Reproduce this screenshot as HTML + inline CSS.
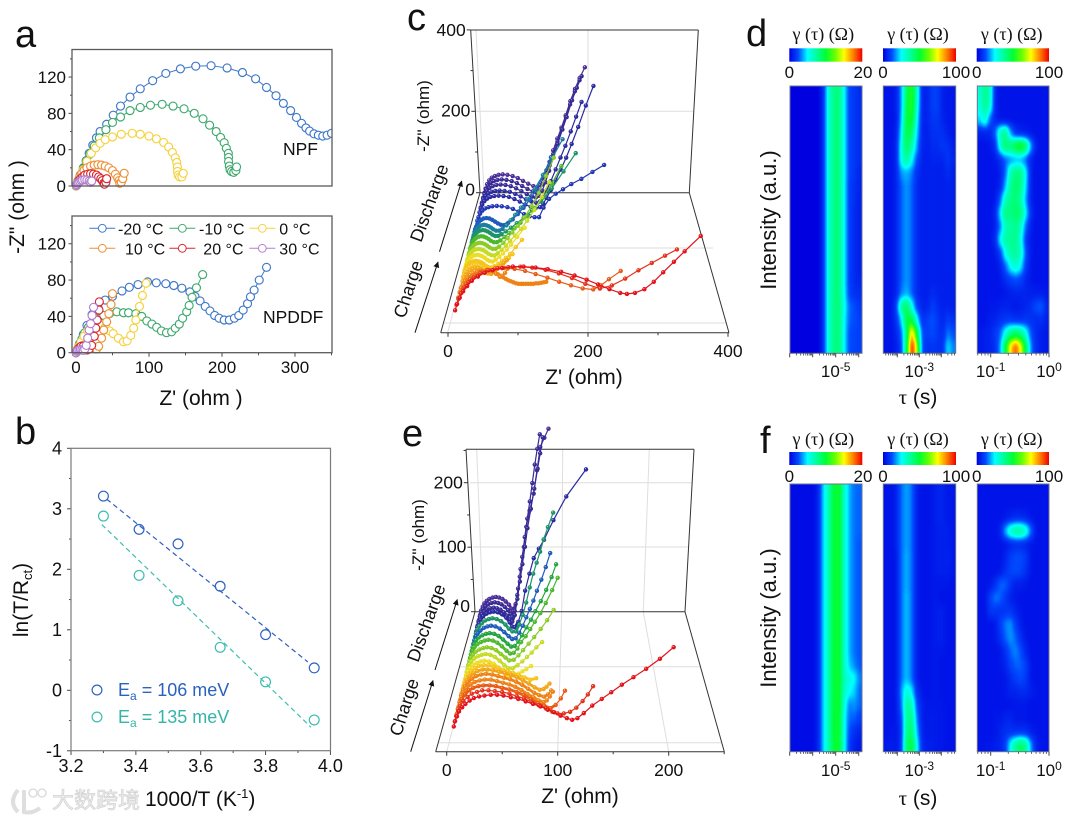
<!DOCTYPE html>
<html lang="en">
<head>
<meta charset="utf-8">
<title>Impedance figure</title>
<style>
html,body{margin:0;padding:0;background:#fff;}
svg{display:block;}
text{font-family:"Liberation Sans","Noto Sans CJK SC",sans-serif;fill:#111;}
.serif{font-family:"Liberation Serif",serif;}
</style>
</head>
<body>
<svg id="fig" xmlns="http://www.w3.org/2000/svg" width="1079" height="820" viewBox="0 0 1079 820">
<defs>
<filter id="jet" x="-15%" y="-15%" width="130%" height="130%" color-interpolation-filters="sRGB">
<feGaussianBlur stdDeviation="2.2 4.2"/>
<feColorMatrix type="matrix" values="1 0 0 0 0  1 0 0 0 0  1 0 0 0 0  0 0 0 0 1"/>
<feComponentTransfer>
<feFuncR type="table" tableValues="0 0 0 0 0 .4 1 1 .93"/>
<feFuncG type="table" tableValues="0 .3 1 1 1 1 1 .5 0"/>
<feFuncB type="table" tableValues=".88 1 1 .6 .2 0 0 0 0"/>
</feComponentTransfer>
</filter>
<linearGradient id="cbar">
<stop offset="0" stop-color="#0000e0"/><stop offset=".125" stop-color="#004dff"/><stop offset=".25" stop-color="#00ffff"/><stop offset=".375" stop-color="#00ff99"/><stop offset=".5" stop-color="#00ff33"/><stop offset=".625" stop-color="#66ff00"/><stop offset=".75" stop-color="#ffff00"/><stop offset=".875" stop-color="#ff8000"/><stop offset="1" stop-color="#ed0000"/>
</linearGradient>
<marker id="arrow" markerWidth="7" markerHeight="7" refX="5.5" refY="3" orient="auto"><path d="M0,0 L6,3 L0,6 Z" fill="#111"/></marker>
</defs>

<!-- panel letters -->
<text x="15" y="47" font-size="38">a</text>
<text x="15" y="444" font-size="38">b</text>
<text x="407" y="30" font-size="38">c</text>
<text x="746" y="46" font-size="38">d</text>
<text x="402" y="446" font-size="38">e</text>
<text x="760" y="453" font-size="38">f</text>

<!-- axis titles -->
<text x="201" y="405" font-size="21" text-anchor="middle">Z' (ohm )</text>
<text transform="translate(24,207) rotate(-90)" font-size="21" text-anchor="middle">-Z" (ohm )</text>
<text x="145" y="806" font-size="21">1000/T (K<tspan dy="-8" font-size="13">-1</tspan><tspan dy="8">)</tspan></text>
<text transform="translate(28,600) rotate(-90)" font-size="21" text-anchor="middle">ln(T/R<tspan dy="4" font-size="13">ct</tspan><tspan dy="-4">)</tspan></text>
<text x="584" y="384" font-size="21" text-anchor="middle">Z' (ohm)</text>
<text transform="translate(429,116) rotate(-90)" font-size="17" text-anchor="middle">-Z'' (ohm)</text>
<text transform="translate(435,205) rotate(-70)" font-size="18" text-anchor="middle">Discharge</text>
<text transform="translate(414,291) rotate(-72)" font-size="18" text-anchor="middle">Charge</text>
<text x="580" y="803" font-size="21" text-anchor="middle">Z' (ohm)</text>
<text transform="translate(424,535) rotate(-90)" font-size="17" text-anchor="middle">-Z'' (ohm)</text>
<text transform="translate(432,625) rotate(-70)" font-size="18" text-anchor="middle">Discharge</text>
<text transform="translate(410,709) rotate(-72)" font-size="18" text-anchor="middle">Charge</text>
<line x1="415" y1="332.7" x2="438" y2="262" stroke="#111" stroke-width="1" marker-end="url(#arrow)"/>
<line x1="439.5" y1="251.7" x2="461.7" y2="181" stroke="#111" stroke-width="1" marker-end="url(#arrow)"/>
<line x1="410.7" y1="751.7" x2="433" y2="680.5" stroke="#111" stroke-width="1" marker-end="url(#arrow)"/>
<line x1="435" y1="670" x2="457.3" y2="599.5" stroke="#111" stroke-width="1" marker-end="url(#arrow)"/>
<text x="283" y="155" font-size="17.5">NPF</text>
<text x="263" y="323" font-size="17.5">NPDDF</text>

<text transform="translate(776,220) rotate(-90)" font-size="22" text-anchor="middle">Intensity (a.u.)</text>
<text transform="translate(776,618) rotate(-90)" font-size="22" text-anchor="middle">Intensity (a.u.)</text>
<text x="918" y="404" font-size="21" text-anchor="middle"><tspan class="serif">τ</tspan> (s)</text>
<text x="918" y="805" font-size="21" text-anchor="middle"><tspan class="serif">τ</tspan> (s)</text>

<!-- watermark -->
<g>
<path d="M18,790 Q8,802 18,812 M24,790 L24,812 Q32,814 40,808" fill="none" stroke="#dedede" stroke-width="4"/>
<circle cx="33" cy="793" r="4" fill="none" stroke="#dedede" stroke-width="1.6"/>
<circle cx="42" cy="793" r="4" fill="none" stroke="#dedede" stroke-width="1.6"/>
<text x="52" y="808" font-size="22" style="fill:#ececec;stroke:#d2d2d2;stroke-width:.7;font-family:'Liberation Sans','Noto Sans CJK SC',sans-serif">大数跨境</text>
</g>
</svg>

<script>
/* ---------- panel a data ---------- */
const tempLabels = ['-20 °C','-10 °C','0 °C','10 °C','20 °C','30 °C'];
const npfReZ = [
[0,3,6,10,14,18,23,28,33,42,51,61,74,88,105,123,143,164,185,207,228,246,261,274,284,294,302,309,315,320,326,332,338,344,350],
[0,3,6,10,14,19,25,32,41,50,61,74,88,102,118,133,148,162,174,183,192,198,203,206,208.7,209,209,210,211,213,216,219,220],
[0,2,5,10,15,21,27,33,40,50,62,77,88,100,110,120,127,132,136,138,139,139,140,142,145,147],
[1,3,5,8,11,15,20,25,30,35,40,45,50,54,57,59,60,62,64,66],
[1,2,4,6,9,12,16,20,24,28,31,34,36,38,39,41,42],
[0.5,1,2,3,5,7,9,12,15,18,20,21.5]];
const npfImZ = [
[0,6,12,20,28,36,45,53,60,68,78,88,98,107,116,124,129,132,132.5,130,125,118,108.5,99.5,91,83,75.5,69,64,60.5,57.5,56,55,56,58],
[0,6,12,19,27,35,44,53,62,70,76,83,86.5,89,90,88,85,80,74,67,60,53.5,47.7,41.5,36,31.5,27,22,18,16,15,17,21],
[0,4,8,18,27,36,42,47,51,54,57,58,57,55,52,48,43,37,31,26,21,16,12,10,10,14],
[2,6,10,14,17,20,22,23,23.5,23,22,20,17,13,9,6,3,4,8,14],
[1,3,6,8,10,12,13,13.5,13,12,10,8,6,3,2,4,8],
[0.5,1.5,3,4,5,6,6.5,7,6.5,5.5,4,5.5]];
const npddfReZ = [
[0,2,5,10,15,22,30,40,50,63,73,85,98,110,123,134,145,156,163,170,177,183.5,190,196,203,210,217,223,229,235,239,244,251,261],
[0,2,4,8,12,17,23,30,38,46,56,65,72,82,90,97,104,110.5,117,124,131,136,141.5,146,151.6,155,159,165,173.5],
[0,2,4,7,11,16,22,28,34,40,46,51,58,65,70,75,79,82,87,91,96],
[0,2,5,9,14,19,24,28,31,35,38,42,45,48,50],
[0,2,4,7,10,13,15,18,21.5,25,27,29,31.5,32],
[0,1,2,4,6,8,10,12,14,16,18,20,22,24]];
const npddfImZ = [
[0,4,10,20,30,42,50,58,62,68,72,75,78,77,76,74,71,67,62,57,51,46,41,38,36,36,38,41,47,54,61.5,69,80,94],
[0,4,8,15,22,28,33,38,41,43,45,44,44,43,40,35,31.5,28,24,22,23,27,31.5,38,45,52,61,71.5,86],
[0,4,7,12,18,24,28,30,30,28,24,21,16,12,13,19,27,36,51,63,76.5],
[0,3,6,8,9,8,5,4,7,16,25,34,43,53,65],
[0,3,5,7,7,5,3,4,8,18,27,36,47,56],
[0,1.5,2.5,3,3.5,3,2.5,4,8,16,25,32,41,50]];
const aYTicks = [0,40,80,120];
const aYMinor = [20,60,100,140];
const aXTicks = [0,100,200,300];
const aXMinor = [50,150,250,350];
const aColors = ['#3f78c9','#3fa96f','#f4d23c','#ee9034','#d92632','#b27fd2'];

/* ---------- panel b data ---------- */
const bInverseT = [3.30,3.41,3.53,3.66,3.80,3.95];
const bSeriesNpf = [3.21,2.66,2.42,1.72,0.92,0.37];
const bSeriesNpddf = [2.88,1.90,1.48,0.71,0.14,-0.49];
const bFitX = [3.31,3.93];
const bFitNpf = [3.16,0.47];
const bFitNpddfX = [3.295,3.94];
const bFitNpddf = [2.74,-0.61];
const bXTicks = ['3.2','3.4','3.6','3.8','4.0'];
const bXMinor = [3.3,3.5,3.7,3.9];
const bYTicks = [-1,0,1,2,3,4];
const bYMinor = [-0.5,0.5,1.5,2.5,3.5];

/* ---------- panel c data (front to back) ---------- */
const cycleColors = ['#e3121a','#e5321a','#e95a16','#ee8214','#f2a316','#f4c51c','#eedd22','#c6dc24','#8ccc28','#4cb82e','#22a53e','#1c9468','#1c7fa0','#1e5cbc','#2036b4','#2a2aa0','#362a96','#4a2d98'];
const cDepth = [.16,.2,.25,.29,.32,.37,.40,.43,.47,.51,.555,.60,.645,.68,.72,.80,.86,.895,.93,.965,1.0];
const cReZ = [
[2,5,9,14,20,27,36,46,58,72,88,104,122,140,160,180,198,215,232,248,258,270,284,298,312,328,344,368],
[2,5,9,14,20,28,38,50,64,80,98,116,136,156,176,196,218,236,256,276,296,316,334],
[2,5,9,14,20,27,36,46,58,72,88,104,120,138,156,174,192,208,220,232,250],
[2,4,7,10,14,18,23,29,35,42,50,58,64,68,72,76],
[2,4,6,8,10,12,14,16,18,21,23,26,29,32,36,40,44,48,52,56,60,64,68,72,76,80,84,88,92,96,99,103,107,111,115,119,123,127,131,135],
[2,4,7,10,14,18,22,27,32,37,42,47,52,57,62,67,72],
[1,3,5,8,11,15,19,23,27,31,35,39,43,47,52,57,62,68,74,80],
[1,2,4,6,9,12,16,20,24,28,32,36,40,45,50,56,62,68,75,84,94],
[1,2,4,6,9,12,16,20,24,28,32,36,40,45,50,56,62,68,75,85,97],
[1,2,4,6,9,12,16,20,24,28,32,36,41,46,52,58,65,72,80,90,100,112,124,136],
[1,2,4,6,9,12,16,20,24,28,32,36,41,46,52,59,66,74,83,94,106,118,130,143],
[1,2,4,6,9,12,16,20,24,28,32,36,41,46,52,59,67,76,86,97,110,124,139,155],
[1,2,4,6,9,12,16,20,24,28,32,36,41,46,52,59,68,78,90,104,120,138,158,179],
[1,2,4,6,9,12,16,20,24,28,32,36,41,46,52,59,66,74,84,95,108,122,138,156],
[1,2,4,6,9,13,17,22,27,32,37,42,47,53,60,68,77,87,98,110,122,135],
[1,3,6,10,15,21,28,36,45,55,65,75,85,95,104,112,120,130,142,155,170,188,208,229],
[1,3,6,10,15,21,28,36,45,55,65,75,85,95,104,112,118,124,132,141,150,160,170,182,196,210],
[1,3,6,10,15,21,28,36,45,55,65,75,85,95,104,111,117,123,131,140,149,158,168,178,188],
[1,3,6,10,15,21,28,36,45,55,65,75,85,95,102,108,114,120,127,135,143,152,160,170,179,188],
[1,3,6,10,15,21,28,36,45,55,65,75,85,95,102,108,114,120,127,134,142,150,158,166,175,184],
[1,3,6,10,15,21,28,36,45,55,65,75,85,95,102,108,114,120,126,133,141,149,157,166,175,184,194]];
const cImZ = [
[0,12,24,36,46,56,64,71,76,80,83,83,81,78,73,66,58,49,40,33,31,33,40,54,72,92,112,141],
[0,11,22,33,43,52,60,66,70,72,73,71,67,60,51,40,31,37,50,66,80,94,106],
[0,9,18,27,36,43,50,54,57,58,56,52,46,39,31,24,18,16,24,36,52],
[0,8,15,22,28,33,37,40,42,42,41,36,30,32,38,46],
[0,3,6,9,12,15,18,21,23,26,28,30,31,32,33,34,35,35,33,30,27,24,21,18,15,13,11,9,8,8,8,8,8,8,8,9,9,10,11,12],
[0,6,12,17,21,24,25,25,23,19,15,14,18,24,30,36,42],
[0,5,10,15,19,22,24,24,23,21,17,14,12,11,14,19,24,31,38,46],
[0,5,10,14,18,21,23,24,23,21,18,14,11,10,13,18,24,30,38,52,67],
[0,5,10,15,19,22,24,25,24,22,19,15,12,11,15,21,28,36,46,62,81],
[0,5,11,16,20,23,25,26,25,23,20,16,13,12,17,24,33,43,54,68,85,108,135,166],
[0,5,11,16,20,23,25,26,25,23,20,16,13,13,18,26,36,48,62,80,104,132,168,207],
[0,5,11,16,21,24,26,27,26,24,21,17,14,14,18,25,34,44,56,70,88,110,140,178],
[0,5,11,16,21,24,26,27,26,24,21,17,14,14,18,24,32,42,54,70,90,118,155,195],
[0,5,11,17,22,25,27,28,27,25,22,18,15,15,19,27,38,50,66,84,108,138,175,217],
[0,6,12,18,23,27,30,31,30,27,23,19,16,15,20,28,40,54,72,96,128,167],
[0,8,16,23,28,31,33,34,33,31,27,21,15,10,8,8,30,50,62,72,84,96,112,128],
[0,9,18,26,32,36,38,39,38,36,31,25,18,13,10,12,20,34,52,76,100,128,160,200,250,296],
[0,9,19,27,33,37,39,40,39,37,32,26,19,14,11,14,24,40,62,90,118,146,180,215,250],
[0,10,20,28,35,39,42,43,42,39,34,27,20,14,12,16,28,48,76,108,140,175,205,245,275,303],
[0,10,20,29,36,40,43,44,43,40,35,28,21,15,12,17,32,52,78,106,136,166,196,226,258,285],
[0,10,21,30,37,41,44,45,44,41,36,29,22,16,13,18,36,55,76,104,133,160,190,225,255,282,308]];
const cColorIndex = [0,1,2,3,3,4,5,5,6,7,8,9,11,12,13,14,15,15,16,16,17];
const cXTicks = [0,200,400];
const cXMinor = [100,300];
const cYTicks = [0,200,400];
const cYMinor = [100,300];

/* ---------- panel e data (front to back) ---------- */
const eDepth = [.18,.22,.27,.32,.37,.42,.47,.52,.57,.62,.67,.72,.77,.82,.86,.90,.94,.98];
const eReZ = [
[1,2,4,6,9,12,16,20,25,30,36,42,48,55,62,69,76,83,90,96,102,108,113,118,124,132,141,150,160,171,183,196,209],
[1,2,4,6,9,13,17,22,27,33,39,46,53,60,67,74,81,88,94,99,105,111,117,123,128,133],
[1,2,4,6,9,13,17,22,27,33,39,45,52,59,66,73,80,86,92,97,102,106],
[1,2,4,6,9,13,17,22,27,33,39,45,51,57,63,69,75,80,85,88,91,94],
[1,2,4,6,9,13,17,22,27,33,39,45,51,57,63,69,75,80,85,89,92],
[1,2,4,6,9,13,17,22,27,33,39,45,51,57,63,69,75,80,84,87,90],
[1,2,4,6,9,13,17,22,27,32,37,42,47,52,58,64,70,76],
[1,2,4,6,9,13,17,21,26,31,36,41,45,49,53,57,61,65,70],
[1,2,4,6,9,13,17,21,26,31,36,41,45,50,55,60,65,70,75,81],
[1,2,4,6,9,13,17,21,26,31,36,41,45,50,55,60,66,72,79,86,93],
[1,2,4,6,9,13,17,21,26,31,36,41,45,49,53,57,62,67,72,78,84,91,97],
[1,2,4,6,9,13,17,21,26,31,36,41,45,49,53,57,62,67,72,78,84,90,95],
[1,2,4,6,9,13,17,21,26,31,36,41,45,49,53,57,61,65,69,73,78,83,88],
[1,2,4,6,9,13,17,21,26,31,36,40,44,48,52,56,60,64,68,72,76,80,85,91],
[1,2,4,6,9,13,17,21,26,31,36,40,43,46,50,54,58,63,68,74,80,91,106,129],
[1,2,4,6,9,12,16,20,24,28,32,36,39,42,45,48,51,54,57,60,64,68,72,75,78],
[1,2,4,6,9,12,16,20,24,28,32,36,39,41,44,47,50,53,56,59,62,65,68,71,74],
[1,2,4,6,9,12,16,20,24,28,32,36,39,41,44,47,50,54,57,61,66,70,74,79,84]];
const eImZ = [
[0,6,12,18,23,27,31,34,36,37,38,38,37,35,33,30,27,24,20,17,13,10,8,10,16,25,33,41,50,59,69,81,95],
[0,6,12,18,24,29,33,35,37,37,36,35,33,30,27,23,19,15,11,9,9,11,16,24,32,42],
[0,6,12,18,24,29,32,34,35,35,34,32,30,27,23,18,13,10,7,11,19,28.5],
[0,6,12,18,23,28,31,33,34,34,32,30,28,25,21,16,12,8,6,8,13,19],
[0,6,12,17,22,27,30,32,33,32,30,28,26,23,19,14,9,6,4,7,12],
[0,5,11,16,21,25,28,30,30,29,27,25,23,20,16,12,7,4,5,8,12],
[0,5,10,15,19,23,26,27,27,25,23,21,19,17,14,11,8,10],
[0,5,10,14,18,21,23,24,23,20,15,9,5,4,5,7,10,13,17],
[0,5,10,14,18,21,23,24,23,20,15,9,5,5,9,14,20,26,33,40],
[0,5,10,14,18,21,23,24,23,20,15,10,6,7,13,20,29,38,49,61,75],
[0,5,10,15,19,22,24,25,24,21,16,10,6,7,13,22,30,40,50,62,76,94,111],
[0,5,10,15,19,22,24,25,24,21,16,10,6,7,13,22,33,44,56,70,86,104,122],
[0,5,11,15,19,23,25,26,25,22,17,11,7,8,16,26,38,50,62,76,92,110,130],
[0,5,11,16,20,24,26,27,26,23,18,12,8,8,18,32,50,72,92,108,124,142,160,181],
[0,6,12,17,22,26,28,29,28,25,20,13,7,6,14,30,60,85,108,122,135,164,199,239],
[0,6,12,17,21,24,26,27,26,24,20,15,9,6,16,40,66,92,118,146,175,205,235,258,282],
[0,6,12,17,21,24,26,27,26,24,20,15,9,5,14,38,66,96,126,154,180,208,236,260,282],
[0,6,12,17,21,24,26,27,26,24,20,15,9,5,16,40,70,104,135,160,186,222,258,272,286]];
const eColorIndex = [0,1,2,3,3,4,5,6,7,8,9,10,13,11,15,16,16,17];
const eXTicks = [0,100,200];
const eXMinor = [50,150,250];
const eYTicks = [0,100,200];
const eYMinor = [50,150,250];

/* ---------- DRT heatmap data: rows top to bottom, columns left to right, 0-100 = colour-bar fraction ---------- */
const heatD1 = [
[0,0,0,0,0,0,8,30,40,42,26,11,9,7],[0,0,0,0,0,0,8,30,40,42,26,11,9,7],[0,0,0,0,0,0,8,30,40,42,26,11,9,7],[0,0,0,0,0,0,8,30,40,42,26,11,9,7],
[0,0,0,0,0,0,8,30,40,42,26,11,9,7],[0,0,0,0,0,0,8,30,40,42,26,11,9,7],[0,0,0,0,0,0,8,30,40,42,26,11,9,6],[0,0,0,0,0,0,8,30,40,42,26,10,8,6],
[0,0,0,0,0,0,8,30,40,42,26,10,8,5],[0,0,0,0,0,0,8,30,40,42,26,10,7,5],[0,0,0,0,0,0,8,30,40,42,26,10,7,5],[0,0,0,0,0,0,8,30,40,42,26,10,7,5],
[0,0,0,0,0,0,8,30,40,42,26,10,7,5],[0,0,0,0,0,0,8,30,40,42,26,10,7,5],[0,0,0,0,0,0,8,30,40,42,26,10,7,6],[0,0,0,0,0,0,8,30,40,42,26,11,8,7],
[0,0,0,0,0,0,8,30,40,42,28,15,12,9],[0,0,0,0,0,0,8,30,40,42,26,14,12,10],[0,0,0,0,0,0,8,30,40,42,26,12,11,10],[0,0,0,0,0,0,8,30,40,42,26,12,11,10]];
const heatD2 = [
[3,3,5,18,46,56,32,6,6,10,10,5,4,4],[3,3,5,18,48,56,30,6,6,10,10,5,4,4],[3,3,4,20,50,52,26,6,6,9,9,6,4,4],[3,3,5,24,50,44,22,6,5,8,8,8,5,4],
[3,3,6,28,46,36,18,6,5,7,7,9,8,5],[3,3,6,28,38,26,12,5,5,6,6,6,9,6],[3,3,6,18,20,16,8,5,5,6,5,5,7,5],[3,3,6,14,18,14,7,5,5,6,5,5,6,5],
[3,3,6,14,18,14,7,5,5,6,5,5,6,5],[3,3,6,14,18,14,7,5,5,6,5,5,6,5],[3,3,6,14,18,14,7,5,5,6,5,5,6,5],[3,3,6,14,18,14,7,5,5,6,5,5,6,5],
[3,3,6,14,18,14,7,5,5,6,5,5,6,5],[3,3,6,14,18,14,7,5,5,6,5,5,6,5],[3,3,6,14,18,14,7,5,5,6,5,5,5,5],[3,3,6,16,20,14,7,5,5,7,6,5,5,5],
[3,3,10,38,46,28,10,6,6,10,7,5,6,5],[3,3,8,22,50,50,26,8,10,13,9,6,10,8],[3,3,6,14,40,85,50,12,10,12,9,7,16,12],[3,3,5,10,45,100,70,12,8,9,8,8,24,16]];
const heatD3 = [
[30,40,32,6,3,3,3,3,3,3,3,3,3,3],[28,40,30,6,3,3,3,3,3,3,3,3,3,3],[22,32,14,6,4,3,3,3,3,3,3,3,3,3],[5,6,6,14,34,40,18,8,6,5,4,3,3,3],
[3,3,4,8,30,44,42,50,56,44,18,5,3,3],[3,3,3,4,8,14,18,20,20,14,6,3,3,3],[3,3,3,3,5,14,34,42,40,24,5,3,3,3],[3,3,3,3,6,20,38,44,40,22,5,3,3,3],
[3,3,3,4,14,34,40,42,36,18,5,3,3,3],[3,3,3,6,24,42,40,44,42,24,7,3,3,3],[3,3,3,5,16,34,36,40,32,14,5,3,3,3],[3,3,3,7,26,36,38,40,28,9,4,3,3,3],
[3,3,3,4,10,28,36,38,32,12,4,3,3,3],[3,3,3,3,5,14,26,32,24,9,4,3,3,3],[3,3,3,3,4,7,10,12,10,6,4,3,3,3],[3,3,3,3,3,4,5,6,6,6,5,5,5,4],
[3,3,4,4,5,6,5,4,5,6,8,12,14,6],[3,3,5,6,8,9,9,8,8,9,8,7,8,5],[4,5,6,9,14,28,40,44,40,28,12,7,5,4],[4,5,6,8,18,48,78,92,74,44,16,7,5,4]];
const heatF1 = [
[2,2,2,2,2,6,22,34,50,52,32,20,15,14],[2,2,2,2,2,6,22,34,50,52,32,20,15,14],[2,2,2,2,2,6,22,34,50,52,32,20,15,14],[2,2,2,2,2,6,22,34,50,52,32,20,15,14],
[2,2,2,2,2,6,22,34,50,52,32,20,15,13],[2,2,2,2,2,6,22,34,50,52,32,20,15,13],[2,2,2,2,2,6,22,34,50,52,32,20,15,13],[2,2,2,2,2,6,22,34,50,52,32,20,15,13],
[2,2,2,2,2,6,22,34,50,52,32,20,15,13],[2,2,2,2,2,6,22,34,50,52,32,20,15,13],[2,2,2,2,2,6,22,34,50,52,32,20,15,13],[2,2,2,2,2,6,22,34,50,52,32,20,15,13],
[2,2,2,2,2,6,22,34,50,52,32,20,15,13],[2,2,2,2,2,6,22,34,50,52,32,22,17,13],[2,2,2,2,2,6,22,34,50,52,34,28,26,16],[2,2,2,2,2,6,22,34,50,52,32,26,22,14],
[2,2,2,2,2,6,22,34,50,52,30,16,18,14],[2,2,2,2,2,6,22,34,50,52,28,14,14,10],[2,2,2,2,2,6,22,34,50,52,28,12,8,6],[2,2,2,2,2,6,22,34,50,52,28,10,5,4]];
const heatF2 = [
[3,3,5,15,19,15,5,3,3,4,6,6,4,4],[3,3,5,15,19,15,5,3,3,4,6,6,4,4],[3,3,5,15,19,15,5,3,3,4,6,6,4,4],[3,3,5,15,19,15,5,3,3,4,5,6,5,4],
[3,3,5,15,19,15,5,3,3,4,5,5,5,4],[3,3,4,15,20,15,5,3,3,4,5,5,6,4],[3,3,4,15,20,15,5,3,3,4,5,5,5,4],[3,3,4,15,20,15,5,3,3,4,4,4,4,3],
[3,3,4,15,21,15,5,3,3,4,4,3,3,3],[3,3,4,15,21,15,5,3,3,4,5,5,3,3],[3,3,4,15,21,15,5,3,3,4,5,5,3,3],[3,3,4,15,21,15,5,3,3,4,5,5,3,3],
[3,3,4,15,21,15,5,3,3,4,4,4,3,3],[3,3,4,15,21,15,5,3,3,4,4,3,3,3],[3,3,4,15,21,15,5,3,3,4,4,3,3,3],[3,3,4,18,30,24,8,4,3,4,4,3,3,3],
[3,3,4,15,38,34,12,5,4,4,4,4,3,3],[3,3,4,11,38,40,16,5,4,5,4,4,3,3],[3,4,4,9,40,44,20,6,4,5,4,4,3,3],[4,5,4,9,44,50,26,7,5,5,4,4,3,3]];
const heatF3 = [
[3,3,3,3,3,3,3,3,3,3,3,3,3,3],[3,3,3,3,3,3,3,3,3,3,3,3,3,3],[3,3,3,3,3,4,6,7,7,6,4,3,3,3],[3,3,3,3,6,20,32,38,38,30,14,4,3,3],
[3,3,3,3,3,4,6,7,7,6,4,3,3,3],[3,3,3,3,3,6,10,12,12,9,4,3,3,3],[3,3,3,3,4,8,11,12,11,8,4,3,3,3],[3,3,4,8,14,14,8,5,5,4,3,3,3,3],
[3,3,10,16,14,9,5,4,3,3,3,3,3,3],[3,3,9,9,8,9,9,6,4,3,3,3,3,3],[3,3,3,4,10,16,18,10,5,3,3,3,3,3],[3,3,3,4,8,14,18,14,8,4,3,3,3,3],
[3,3,3,3,4,8,14,17,12,6,3,3,3,3],[3,3,3,3,4,6,11,14,14,10,4,3,3,3],[3,3,3,3,3,4,7,10,12,9,4,3,3,3],[3,3,3,3,3,4,6,6,7,7,5,4,3,3],
[3,3,3,3,3,3,3,4,4,4,3,3,3,3],[3,3,3,4,4,6,6,4,4,4,3,3,3,3],[3,3,3,4,6,8,8,8,8,8,5,4,3,3],[3,4,4,5,6,10,26,38,46,38,18,6,4,3]];
const colorbarMax = ['20','100','100'];
const logTickD1 = [-7,-6,-5,-4];
const logTickD2 = [-5,-4,-3,-2];
const logTickD3 = [-2,-1,0];
const labelledD1 = [-5];
const labelledD2 = [-3];
const labelledD3 = [-1,0];

/* ---------- drawing ---------- */
const NS = 'http://www.w3.org/2000/svg';
const fig = document.getElementById('fig');
function mk(tag, attrs, parent) {
  const el = document.createElementNS(NS, tag);
  for (const k in attrs) el.setAttribute(k, attrs[k]);
  (parent || fig).appendChild(el);
  return el;
}
function group(name, parent) {
  const el = mk('g', {}, parent);
  
  
  return el;
}
function label(parent, x, y, str, anchor, size, name) {
  const el = mk('text', {x: x, y: y, 'text-anchor': anchor, 'font-size': size}, parent);
  el.textContent = str;
  
  
  return el;
}
function seg(parent, x1, y1, x2, y2, color, width, name) {
  const el = mk('line', {x1: x1, y1: y1, x2: x2, y2: y2, stroke: color, 'stroke-width': width}, parent);
  
  
  return el;
}
function frame(parent, x, y, w, h, color, width, name) {
  const el = mk('rect', {x: x, y: y, width: w, height: h, fill: 'none', stroke: color, 'stroke-width': width}, parent);
  
  
  return el;
}
const AXC = '#4a4a4a';

/* panel a axes */
const aX = z => 76 + z * 0.73;
const aBoxes = [{top: 49.5, base: 186, name: 'npf', re: npfReZ, im: npfImZ}, {top: 216, base: 352.7, name: 'npddf', re: npddfReZ, im: npddfImZ}];
const aClipDefs = fig.querySelector('defs');
aBoxes.forEach((box, bi) => {
  const aY = v => box.base - v * 0.908;
  const g = group('panel-a-' + box.name);
  const cp = mk('clipPath', {id: 'clipA' + bi}, aClipDefs);
  mk('rect', {x: 72, y: box.top, width: 260, height: box.base - box.top + 6}, cp);
  aYTicks.forEach(t => {
    seg(g, 68.5, aY(t), 72, aY(t), AXC, 1, 'y-tick-' + t);
    label(g, 66, aY(t) + 6, String(t), 'end', 17, 'y-tick-label-' + t);
  });
  aYMinor.forEach(t => {
    seg(g, 70, aY(t), 72, aY(t), AXC, 1, 'y-minor-tick-' + t);
  });
  if (bi === 1) {
    aXTicks.forEach(t => {
      seg(g, aX(t), box.base, aX(t), box.base + 4, AXC, 1, 'x-tick-' + t);
      label(g, aX(t), 373, String(t), 'middle', 17, 'x-tick-label-' + t);
    });
    aXMinor.forEach(t => {
      seg(g, aX(t), box.base, aX(t), box.base + 2.5, AXC, 1, 'x-minor-tick-' + t);
    });
  }
  const plot = mk('g', {'clip-path': 'url(#clipA' + bi + ')'}, g);
  box.re.forEach((xs, si) => {
    const sg = group(box.name + '-series-' + tempLabels[si].replace(/[^0-9-]/g, '') + 'C', plot);
    const line = mk('polyline', {points: xs.map((x, i) => aX(x) + ',' + aY(box.im[si][i])).join(' '), fill: 'none', stroke: aColors[si], 'stroke-width': 1}, sg);
    
    
    xs.forEach((x, i) => {
      const c = mk('circle', {cx: aX(x), cy: aY(box.im[si][i]), r: 4, fill: '#fff', stroke: aColors[si], 'stroke-width': 1.15}, sg);
      
      
    });
  });
  frame(g, 72, box.top, 260, box.base - box.top, '#5a5a5a', 1.3, 'plot-frame');
});

/* panel a legend */
const legendGroup = group('panel-a-legend');
const legendLineX = [89.3, 169.3, 249.3];
const legendTextX = [[118, 199, 279.3], [125, 203.3, 279.3]];
const legendRowY = [228.3, 248.3];
tempLabels.forEach((t, i) => {
  const row = i < 3 ? 0 : 1, col = i % 3;
  const eg = group('legend-entry-' + t.replace(/[^0-9-]/g, '') + 'C', legendGroup);
  seg(eg, legendLineX[col], legendRowY[row], legendLineX[col] + 26, legendRowY[row], aColors[i], 1, 'legend-line');
  const c = mk('circle', {cx: legendLineX[col] + 13, cy: legendRowY[row], r: 3.9, fill: '#fff', stroke: aColors[i], 'stroke-width': 1}, eg);
  
  
  label(eg, legendTextX[row][col], legendRowY[row] + 6, t, 'start', 16, 'legend-label');
});

/* panel b */
const bX = v => 71 + (v - 3.2) * 324.3;
const bY = v => 448.3 + (4 - v) * 60.5;
const bG = group('panel-b');
bYTicks.forEach(t => {
  seg(bG, 67, bY(t), 71, bY(t), AXC, 1, 'y-tick-' + t);
  label(bG, 62, bY(t) + 6, String(t), 'end', 18, 'y-tick-label-' + t);
});
bYMinor.forEach(t => {
  seg(bG, 69, bY(t), 71, bY(t), AXC, 1, 'y-minor-tick-' + t);
});
bXTicks.forEach(t => {
  seg(bG, bX(+t), 750.7, bX(+t), 755, AXC, 1, 'x-tick-' + t);
  label(bG, bX(+t), 772, t, 'middle', 18, 'x-tick-label-' + t);
});
bXMinor.forEach(t => {
  seg(bG, bX(t), 750.7, bX(t), 753, AXC, 1, 'x-minor-tick-' + t);
});
const fitBlue = seg(bG, bX(bFitX[0]), bY(bFitNpf[0]), bX(bFitX[1]), bY(bFitNpf[1]), '#2f5fbe', 1.2, 'fit-line-106-mev');
fitBlue.setAttribute('stroke-dasharray', '5 3.5');
const fitTeal = seg(bG, bX(bFitNpddfX[0]), bY(bFitNpddf[0]), bX(bFitNpddfX[1]), bY(bFitNpddf[1]), '#3dbdb0', 1.2, 'fit-line-135-mev');
fitTeal.setAttribute('stroke-dasharray', '5 3.5');
[[bSeriesNpf, '#2f63c0', 'npf'], [bSeriesNpddf, '#3dbdb0', 'npddf']].forEach(s => {
  s[0].forEach((v, i) => {
    const c = mk('circle', {cx: bX(bInverseT[i]), cy: bY(v), r: 4.9, fill: 'none', stroke: s[1], 'stroke-width': 1.2}, bG);
    
    
  });
});
frame(bG, 71, 448.3, 259.5, 302.4, '#7a7a7a', 1.2, 'plot-frame');
[[690, '#2f63c0', '106 meV', '#2a62bd'], [717, '#3dbdb0', '135 meV', '#35b5a8']].forEach((row, i) => {
  const eg = group('legend-entry-ea-' + i, bG);
  const c = mk('circle', {cx: 97, cy: row[0], r: 4.9, fill: 'none', stroke: row[1], 'stroke-width': 1.2}, eg);
  
  
  const t = label(eg, 118, row[0] + 6, '', 'start', 18, 'legend-label');
  t.style.fill = row[3];
  t.innerHTML = 'E<tspan dy="4" font-size="12">a</tspan><tspan dy="-4"> = ' + row[2] + '</tspan>';
});

/* 3D panels */
const projC = (re, im, depth) => [588 + (re - 200) * (0.7 - 0.18 * depth), 332.7 - 140 * depth - im * (0.55 - 0.143 * depth)];
const projE = (re, im, depth) => [572.8 + (re - 113.6) * (1.11 - 0.294 * depth), 751.7 - 140 * depth - im * (0.877 - 0.232 * depth)];
const defs = fig.querySelector('defs');
cycleColors.forEach((c, i) => {
  const g = mk('radialGradient', {id: 'ball' + i, cx: '.5', cy: '.5', r: '.6', fx: '.35', fy: '.3'}, defs);
  mk('stop', {offset: '0', 'stop-color': '#ffffff', 'stop-opacity': '.55'}, g);
  const s1 = mk('stop', {offset: '.3', 'stop-color': c}, g);
  const s2 = mk('stop', {offset: '1', 'stop-color': c}, g);
  s1.setAttribute('stop-opacity', '1');
  s2.setAttribute('stop-opacity', '1');
});
function valleyIndex(im) {
  let peak = 0;
  for (let i = 0; i < im.length * 0.6; i++) if (im[i] > im[peak]) peak = i;
  let v = peak;
  while (v + 1 < im.length && im[v + 1] <= im[v]) v++;
  return v;
}
function draw3D(name, proj, depths, reZ, imZ, colorIdx, xTicks, xMinor, yTicks, yMinor, geom) {
  const g = group(name);
  const gridColor = '#dedede';
  const gr = group(name + '-grid', g);
  geom.grid.forEach((v, i) => {
    seg(gr, v[0], v[1], v[2], v[3], gridColor, 1, 'grid-line-' + i);
  });
  const fr = group(name + '-frame', g);
  geom.frame.forEach((v, i) => {
    seg(fr, v[0], v[1], v[2], v[3], '#333', 1, 'frame-edge-' + i);
  });
  xTicks.forEach(t => {
    const p = proj(t, 0, 0);
    seg(g, p[0], geom.base, p[0], geom.base + 4, '#333', 1, 'x-tick-' + t);
    label(g, p[0], geom.xLabelY, String(t), 'middle', 17.5, 'x-tick-label-' + t);
  });
  xMinor.forEach(t => {
    const p = proj(t, 0, 0);
    seg(g, p[0], geom.base, p[0], geom.base + 2.5, '#333', 1, 'x-minor-tick-' + t);
  });
  yTicks.forEach((t, i) => {
    const p = proj(0, t, 1);
    const wx = geom.wallX(p[1]);
    seg(g, wx - 4, p[1], wx, p[1], '#333', 1, 'y-tick-' + t);
    label(g, wx - 5, p[1] + 6 - geom.yLabelShift(i), String(t), 'end', 17.5, 'y-tick-label-' + t);
  });
  yMinor.forEach(t => {
    const p = proj(0, t, 1);
    const wx = geom.wallX(p[1]);
    seg(g, wx - 2.5, p[1], wx, p[1], '#333', 1, 'y-minor-tick-' + t);
  });
  for (let s = depths.length - 1; s >= 0; s--) {
    const sg = group(name + '-cycle-' + s, g);
    const col = cycleColors[colorIdx[s]];
    const pts = reZ[s].map((re, i) => proj(re, imZ[s][i], depths[s]));
    const line = mk('polyline', {points: pts.map(p => p.join(',')).join(' '), fill: 'none', stroke: col, 'stroke-width': geom.lineWidth}, sg);
    
    
    const span = geom.thick(s, pts.length, valleyIndex(imZ[s]));
    const drawThick = () => {
      if (!span) return;
      const thick = mk('polyline', {points: pts.slice(span[0], span[1] + 1).map(p => p.join(',')).join(' '), fill: 'none', stroke: col, 'stroke-width': span[2], 'stroke-linecap': 'round'}, sg);
      
      
    };
    if (!geom.thickOver) drawThick();
    pts.forEach(p => {
      const c = mk('circle', {cx: p[0], cy: p[1], r: 2.2, fill: 'url(#ball' + colorIdx[s] + ')'}, sg);
      
      
    });
    if (geom.thickOver) drawThick();
  }
}
draw3D('panel-c', projC, cDepth, cReZ, cImZ, cColorIndex, cXTicks, cXMinor, cYTicks, cYMinor, {
  base: 332.7, xLabelY: 357, lineWidth: 1.2, thickOver: true,
  thick: (s, n, v) => s === 4 ? [21, n - 1, 3] : (s >= 7 && s <= 14 ? [0, v + 1, 3.4] : null),
  wallX: y => 470.7 + (y - 30) * 0.0572,
  yLabelShift: i => [3, 1, 0][i],
  frame: [[470.7,30,698.3,30],[470.7,30,480,192.7],[698.3,30,689.3,192.7],[480,192.7,689.3,192.7],[480,192.7,440.7,332.7],[689.3,192.7,729,332.7],[440.7,332.7,729,332.7]],
  grid: [[447.7,332.7,484,192.7],[484,192.7,476,30],[588,332.7,588,30],[475,111.3,694,111.3],[464,248,713,248],[443,323,726,323]]
});
draw3D('panel-e', projE, eDepth, eReZ, eImZ, eColorIndex, eXTicks, eXMinor, eYTicks, eYMinor, {
  base: 751.7, xLabelY: 776, lineWidth: 1.2, thickOver: false,
  thick: (s, n, v) => s >= 2 ? [0, v + 1, 2.8] : null,
  wallX: y => 466 + (y - 449.3) * 0.0554,
  yLabelShift: i => [5.5, 0.5, 0][i],
  frame: [[466,449.3,694,449.3],[466,449.3,475,611.7],[694,449.3,685,611.7],[475,611.7,685,611.7],[475,611.7,435.7,751.7],[685,611.7,724.3,751.7],[435.7,751.7,724.3,751.7]],
  grid: [[446.7,751.7,483,611.7],[483,611.7,476.7,449.3],[557.7,751.7,561.7,611.7],[561.7,611.7,562.7,449.3],[668.7,751.7,643.3,611.7],[643.3,611.7,649.3,449.3],[470,482.7,692,482.7],[473,547,688,547],[459,666.7,700,666.7],[438,742.7,722,742.7]]
});

/* heatmaps */
function drawHeat(name, grid, x, y, w, h, index) {
  const g = group(name);
  const cp = mk('clipPath', {id: 'clip-' + name}, defs);
  mk('rect', {x: x, y: y, width: w, height: h}, cp);
  const clipG = mk('g', {'clip-path': 'url(#clip-' + name + ')'}, g);
  const blur = mk('g', {filter: 'url(#jet)'}, clipG);
  const rows = grid.length, cols = grid[0].length;
  grid.forEach((row, r) => {
    row.forEach((v, c) => {
      const lv = Math.round(v * 2.55);
      const cell = mk('rect', {x: x + c * w / cols, y: y + r * h / rows, width: w / cols + 0.6, height: h / rows + 0.6, fill: 'rgb(' + lv + ',' + lv + ',' + lv + ')'}, blur);
      
      
    });
  });
  frame(g, x, y, w, h, '#6d7390', 1, 'heatmap-frame');
  return g;
}
function logAxis(parent, x, base, w, origin, decade, ticks, labelled, labelY) {
  const xOf = e => origin + e * decade;
  ticks.forEach(e => {
    const px = xOf(e);
    if (px >= x - 0.5 && px <= x + w + 0.5) {
      seg(parent, px, base, px, base + 4, '#444', 1, 'log-tick-major');
    }
    [2,3,4,5,6,7,8,9].forEach(m => {
      const mx = xOf(e + Math.log10(m));
      if (mx >= x && mx <= x + w) {
        seg(parent, mx, base, mx, base + 2.2, '#444', 0.8, 'log-tick-minor');
      }
    });
  });
  labelled.forEach(e => {
    const px = xOf(e);
    const t = label(parent, px, labelY, '', 'middle', 17, 'log-tick-label');
    t.innerHTML = '10<tspan dy="-6" font-size="12">' + String(e) + '</tspan>';
  });
}
const heatX = [790, 883.3, 977.3];
const heatW = [72, 72.4, 71.7];
const barX = [789.3, 883, 976.7];
const barW = [73, 73, 72.3];
const titleX = [823.3, 918, 1011.7];
const barMaxX = [863, 956, 1049];
const rowsD = [heatD1, heatD2, heatD3];
const rowsF = [heatF1, heatF2, heatF3];
const axisOrigin = [835.7 + 5 * 23, 919.3 + 3 * 22, 1049];
const axisDecade = [23, 22, 58.3];
const axisTicks = [logTickD1, logTickD2, logTickD3];
const axisLabelled = [labelledD1, labelledD2, labelledD3];
[['d', rowsD, 86, 267.3, 48.3, 13.4, 35, 78, 377], ['f', rowsF, 484, 267.7, 452, 13, 440, 482, 776]].forEach(p => {
  [0, 1, 2].forEach(i => {
    const pname = 'panel-' + p[0] + '-map-' + (i + 1);
    const g = drawHeat(pname, p[1][i], heatX[i], p[2], heatW[i], p[3], i);
    const bar = mk('rect', {x: barX[i], y: p[4], width: barW[i], height: p[5], fill: 'url(#cbar)'}, g);
    
    
    const tt = mk('text', {x: titleX[i], y: p[6] + 5, 'font-size': 18, 'text-anchor': 'middle', 'class': 'serif'}, g);
    tt.textContent = 'γ (τ) (Ω)';
    
    
    label(g, barX[i], p[7], '0', 'middle', 17, 'colorbar-min-label');
    label(g, barMaxX[i], p[7], colorbarMax[i], 'middle', 17, 'colorbar-max-label');
    logAxis(g, heatX[i], p[2] + p[3], heatW[i], axisOrigin[i], axisDecade[i], axisTicks[i], axisLabelled[i], p[8]);
  });
});
</script>
</body>
</html>
